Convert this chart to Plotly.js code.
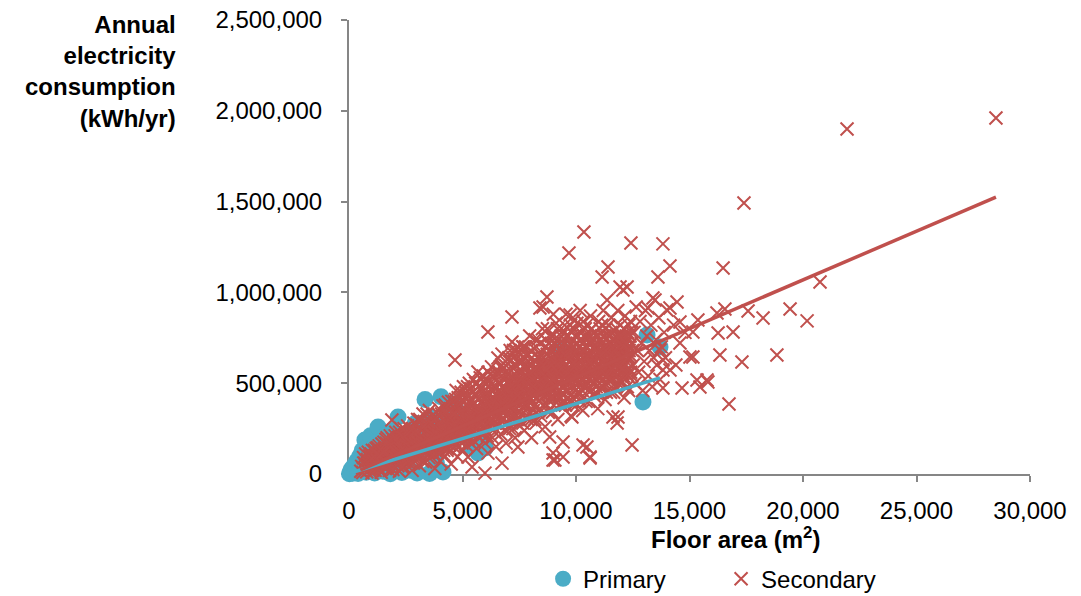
<!DOCTYPE html>
<html>
<head>
<meta charset="utf-8">
<script src="https://cdn.plot.ly/plotly-3.0.1.min.js"></script>
<style>
html,body{margin:0;padding:0;background:#fff;}
#chart{width:1081px;height:596px;}
</style>
</head>
<body>
<div id="chart"></div>
<script>
// Series names
const seriesNames = ["Primary", "Secondary"];

// Axis ticks
const xTickVals = [0, 5000, 10000, 15000, 20000, 25000, 30000];
const yTickVals = [0, 500000, 1000000, 1500000, 2000000, 2500000];

// Primary schools: [floor area m2, kWh/yr]
const primaryPoints = [
 [20,2000],[60,12000],[110,28000],[160,4000],[220,45000],[280,15000],[340,70000],[400,3000],
 [460,95000],[520,35000],[580,130000],[640,60000],[700,187000],[760,10000],[820,150000],[880,85000],
 [950,210000],[1000,40000],[1060,120000],[1130,5000],[1200,175000],[1280,259000],[1350,70000],
 [1420,140000],[1500,15000],[1580,210000],[1660,100000],[1740,180000],[1820,2000],[1900,240000],
 [1980,130000],[2060,60000],[2160,314000],[2250,200000],[2330,8000],[2420,150000],[2520,90000],
 [2620,230000],[2720,20000],[2820,170000],[2920,280000],[3000,5000],[3100,120000],[3200,260000],
 [3350,410000],[3450,190000],[3550,3000],[3650,310000],[3750,140000],[3850,60000],[3950,270000],
 [4050,425000],[4140,11000],[4250,230000],[4400,330000],[4580,385000],[4700,360000],[4800,250000],
 [5000,300000],[5200,200000],[5400,150000],[5680,116000],[5860,171000],[6000,143000],[9380,683000],
 [13130,765000],[13700,699000],[12950,396000]
];

// Secondary schools: [floor area m2, kWh/yr] - scattered points
const secondaryPoints = [
 [520,15000],[560,42000],[610,8000],[650,60000],[700,30000],[740,75000],[780,12000],[830,52000],
 [870,95000],[900,25000],[950,70000],[980,110000],[1010,5000],[1040,45000],[1080,88000],
 [1120,130000],[1150,20000],[1190,62000],[1230,100000],[1260,145000],[1300,35000],[1340,80000],
 [1380,120000],[1420,10000],[1450,165000],[1480,55000],[1520,95000],[1560,140000],[1600,30000],[1630,190000],
 [1660,75000],[1700,115000],[1740,160000],[1780,20000],[1820,210000],[1850,90000],[1890,297000],[1900,135000],
 [1940,50000],[1980,180000],[2020,105000],[2060,230000],[2100,65000],[2140,150000],[2180,200000],[2220,15000],
 [2260,120000],[2300,250000],
 [2340,85000],[2380,175000],[2420,40000],[2460,215000],[2500,140000],[2540,100000],[2580,265000],[2620,60000],
 [2660,190000],[2700,155000],[2740,230000],[2780,20000],[2820,120000],[2860,280000],[2900,175000],[2940,80000],[2980,210000],
 [3020,300000],[3060,140000],[3100,45000],[3140,250000],[3180,195000],[3220,105000],[3260,330000],[3300,160000],
 [3340,225000],[3380,65000],[3420,280000],[3460,130000],[3500,190000],[3540,350000],[3580,240000],[3620,95000],
 [3660,300000],[3700,165000],[3740,215000],[3780,30000],
 [3820,260000],[3860,190000],[3900,120000],[3940,330000],[3980,230000],[4020,70000],[4060,285000],[4100,160000],
 [4140,375000],[4180,210000],[4220,100000],[4260,310000],[4300,250000],[4340,140000],[4380,395000],[4420,190000],
 [4460,270000],[4500,55000],[4540,340000],[4580,225000],
 [4620,150000],[4670,628000],[4700,410000],[4740,300000],[4780,95000],[4820,250000],[4860,370000],[4900,180000],
 [4940,450000],[4980,320000],[5020,130000],[5060,280000],[5100,420000],[5140,210000],[5180,350000],[5220,480000],
 [5240,94000],[5280,260000],[5320,390000],[5360,170000],[5400,310000],[5420,39000],[5460,450000],
 [5500,230000],[5540,360000],[5580,500000],[5620,140000],[5660,290000],[5680,562000],[5720,410000],[5760,200000],
 [5800,330000],[5840,470000],[5880,250000],[5920,540000],[5960,380000],[5990,5000],[6000,170000],[6040,300000],
 [6080,430000],[6120,115000],[6120,782000],[6160,510000],[6200,260000],[6240,350000],[6280,590000],[6320,200000],
 [6360,460000],[6400,320000],[6440,400000],[6480,150000],
 [6520,540000],[6560,639000],[6560,280000],[6600,420000],[6640,360000],[6680,220000],[6720,600000],[6740,60000],
 [6760,480000],[6800,300000],[6840,390000],[6880,560000],[6920,170000],[6960,450000],[7000,330000],[7040,640000],
 [7080,250000],[7120,510000],[7180,865000],[7180,727000],[7160,400000],[7200,300000],[7240,580000],[7280,460000],
 [7320,200000],[7360,680000],[7400,360000],[7440,149000],[7440,520000],[7480,270000],
 [7520,620000],[7560,430000],[7600,330000],[7640,560000],[7680,700000],[7720,240000],[7760,480000],[7800,380000],
 [7840,650000],[7880,300000],[7920,530000],[7960,760000],[8000,420000],[8040,200000],[8080,600000],[8120,350000],
 [8160,690000],[8200,470000],[8240,280000],[8280,560000],[8320,740000],[8360,400000],[8400,640000],[8440,320000],
 [8480,510000],
 [8520,800000],[8560,450000],[8600,600000],[8640,260000],[8680,700000],[8720,975000],[8720,380000],[8760,540000],
 [8800,650000],[8840,204000],[8880,480000],[8920,760000],[8960,340000],[8990,77000],[8990,116000],[9000,580000],
 [9040,690000],[9080,420000],[9120,830000],[9160,520000],[9200,300000],[9240,620000],[9280,720000],[9320,460000],
 [9360,560000],[9400,380000],[9440,790000],[9480,650000],
 [9520,500000],[9560,880000],[9600,600000],[9640,420000],[9690,1217000],[9700,700000],[9740,540000],[9780,320000],
 [9820,314000],[9820,780000],[9860,640000],[9900,470000],[9940,850000],[9980,560000],[10020,380000],[10060,720000],
 [10100,610000],[10140,450000],[10180,900000],[10220,520000],[10260,680000],[10300,350000],[10350,1333000],
 [10340,760000],[10380,590000],[10420,480000],[10460,820000],[10480,149000],
 [10520,650000],[10560,400000],[10600,560000],[10620,88000],[10640,870000],[10680,720000],[10720,500000],
 [10760,620000],[10800,430000],[10840,780000],[10880,680000],[10920,540000],[10960,360000],[11000,840000],
 [11040,600000],[11080,740000],[11120,470000],[11150,1085000],[11160,660000],[11200,900000],[11240,560000],
 [11280,410000],[11320,800000],[11360,700000],[11410,1140000],[11400,520000],[11440,620000],[11480,760000],
 [11520,450000],[11560,860000],[11600,680000],[11630,314000],[11640,560000],[11680,790000],[11720,620000],
 [11760,480000],[11810,281000],[11800,720000],[11850,314000],[11840,900000],[11880,580000],[11920,660000],
 [11960,820000],[12000,500000],[12040,740000],[12070,1013000],[12080,600000],[12120,420000],[12160,870000],
 [12200,680000],[12240,550000],[12280,780000],[12320,460000],[12420,1272000],[12360,640000],[12400,840000],
 [12440,720000],[12470,160000],
 [12520,600000],[12560,780000],[12600,500000],[12650,920000],[12700,680000],[12760,560000],[12820,840000],
 [12880,720000],[12940,460000],[13000,620000],[13060,900000],[13120,760000],[13180,540000],[13240,680000],
 [13300,820000],[13360,480000],[13420,640000],[13480,958000],[13520,740000],[13560,600000],[13610,1085000],
 [13650,860000],[13700,520000],[13760,700000],[13830,1267000],[13830,474000],[13830,573000],[13880,780000],
 [13940,640000],
 [14140,1145000],[14140,914000],[14450,947000],[14580,721000],[14670,474000],[14300,820000],[14400,600000],
 [14800,780000],[15150,644000],[15370,848000],[15460,479000],[15810,507000],[16210,887000],[16260,776000],
 [16340,655000],[16480,1134000],[16560,909000],[16740,385000],[16920,782000],[17310,617000],[17400,1492000],
 [17580,898000],[18240,859000],[18850,655000],[19430,909000],[20180,843000],[20750,1057000],[21940,1900000],
 [28500,1960000],
 [12250,1030000],[11940,1030000],[13170,914000],[14000,903000],[13390,969000],[14580,837000],[15150,782000],
 [15020,644000],[15330,518000],[15770,518000],[9430,176000],[10310,160000],[10620,94000],[9070,77000],
 [9430,94000],[14140,573000],[13830,628000],[13700,683000],[8410,914000],[9740,876000],[11370,958000],
 [8550,920000],[9000,880000]
];

// Secondary schools: [floor area m2, kWh/yr] - the dense core of the cloud
const secondaryCorePoints = [
 [610,35000],[640,90000],[690,60000],[730,110000],[760,40000],[810,80000],[850,120000],[890,55000],[920,100000],
 [960,30000],[1000,85000],[1030,130000],[1070,60000],[1110,100000],[1160,45000],[1200,140000],[1240,75000],
 [1290,115000],[1330,155000],[1370,55000],[1410,95000],[1460,130000],[1500,70000],[1540,175000],[1580,110000],
 [1620,60000],[1640,145000],[1680,200000],[1720,90000],[1760,130000],[1800,170000],[1840,55000],[1870,115000],
 [1910,195000],[1950,80000],[1990,150000],[2030,210000],[2070,100000],[2110,175000],[2150,45000],[2190,130000],
 [2230,230000],[2270,85000],[2310,160000],[2350,200000],[2390,110000],[2430,250000],[2470,70000],[2510,180000],
 [2550,130000],[2590,220000],[2630,95000],[2670,250000],[2710,180000],[2750,120000],[2790,210000],[2830,60000],
 [2870,160000],[2910,240000],[2950,130000],[2990,270000],
 [3040,90000],[3080,200000],[3120,300000],[3160,150000],[3200,240000],[3240,70000],[3280,190000],[3320,290000],
 [3360,120000],[3400,230000],[3440,330000],[3480,170000],[3520,90000],[3560,270000],[3600,200000],[3640,140000],
 [3680,320000],[3720,250000],[3760,110000],[3800,190000],[3840,300000],[3880,150000],[3920,230000],[3960,360000],
 [4000,190000],[4040,120000],[4080,330000],[4120,250000],[4160,170000],[4200,290000],[4240,380000],[4280,200000],
 [4320,130000],[4360,320000],[4400,240000],[4440,160000],[4480,360000],[4520,290000],[4560,190000],
 [4600,260000],[4640,400000],[4660,180000],[4700,330000],[4720,460000],[4760,230000],[4800,380000],[4840,150000],
 [4880,290000],[4920,420000],[4960,200000],[5000,350000],[5040,480000],[5080,240000],[5120,310000],[5160,160000],
 [5200,430000],[5240,370000],[5260,200000],[5300,500000],[5340,290000],[5380,410000],[5420,230000],[5440,350000],
 [5480,520000],[5520,180000],[5560,300000],[5600,430000],[5640,250000],[5680,370000],[5700,480000],[5740,330000],
 [5780,530000],[5820,220000],[5860,400000],[5900,300000],[5940,460000],[5980,250000],[6020,520000],[6060,360000],
 [6100,210000],[6140,450000],[6180,320000],[6220,550000],[6260,400000],[6300,270000],[6340,500000],[6380,360000],
 [6420,230000],[6460,470000],[6500,560000],[6500,330000],
 [6540,400000],[6580,500000],[6620,270000],[6660,590000],[6700,350000],[6700,450000],[6740,660000],[6780,310000],
 [6820,520000],[6860,420000],[6900,240000],[6900,620000],[6940,360000],[6980,500000],[7020,440000],[7060,300000],
 [7060,580000],[7100,680000],[7140,360000],[7140,460000],[7180,540000],[7220,250000],[7220,640000],[7260,400000],
 [7300,520000],[7340,330000],[7340,600000],[7380,460000],[7420,700000],[7460,400000],[7500,560000],[7500,300000],
 [7540,500000],[7580,660000],[7620,420000],[7660,280000],[7660,620000],[7700,500000],[7740,380000],[7780,580000],
 [7780,700000],[7820,460000],[7860,320000],[7900,620000],[7940,420000],[7980,540000],[8020,300000],[8020,680000],
 [8060,480000],[8100,400000],[8140,580000],[8180,300000],[8200,740000],[8220,520000],[8260,420000],[8300,640000],
 [8340,350000],[8380,540000],[8420,720000],[8460,440000],[8500,600000],
 [8540,520000],[8580,380000],[8620,700000],[8660,460000],[8700,600000],[8740,800000],[8780,340000],[8780,500000],
 [8820,720000],[8860,420000],[8860,580000],[8900,640000],[8940,520000],[8980,760000],[9020,380000],[9020,470000],
 [9060,620000],[9100,560000],[9100,720000],[9140,440000],[9180,800000],[9180,650000],[9220,500000],[9260,380000],
 [9260,580000],[9300,680000],[9340,760000],[9340,420000],[9380,520000],[9420,620000],[9460,480000],[9460,720000],
 [9500,560000],[9500,820000],[9540,380000],[9580,680000],[9620,520000],[9660,760000],[9660,460000],[9720,620000],
 [9760,430000],[9760,820000],[9800,560000],[9840,700000],[9880,380000],[9880,600000],[9920,500000],[9960,760000],
 [9960,660000],[10000,440000],[10040,560000],[10040,830000],[10080,500000],[10120,700000],[10160,620000],
 [10200,400000],[10200,780000],[10240,560000],[10280,460000],[10320,640000],[10320,840000],[10360,520000],
 [10400,700000],[10440,400000],[10440,620000],[10480,760000],
 [10540,520000],[10580,720000],[10620,620000],[10660,460000],[10700,800000],[10740,560000],[10780,700000],
 [10820,500000],[10860,620000],[10900,760000],[10940,440000],[10980,660000],[11020,540000],[11060,800000],
 [11100,620000],[11140,720000],[11180,480000],[11220,640000],[11260,760000],[11300,560000],[11340,450000],
 [11380,680000],[11420,820000],[11460,560000],[11500,680000],[11540,520000],[11580,740000],[11620,620000],
 [11660,450000],[11700,700000],[11740,560000],[11780,800000],[11820,640000],[11860,500000],[11900,740000],
 [11940,600000],[11980,700000],[12020,560000],[12060,650000],[12100,800000],[12140,520000],[12180,720000],
 [12220,620000],[12260,480000],[12300,700000],[12340,580000],[12380,760000],[12420,650000],[12460,540000]
];

// Secondary schools: [floor area m2, kWh/yr] - further points inside the dense core
const secondaryInnerPoints = [
 [1050,20000],[1130,70000],[1210,110000],[1270,30000],[1350,100000],[1430,60000],[1510,120000],[1570,35000],
 [1650,170000],[1710,40000],[1790,95000],[1870,160000],[1930,25000],[2010,130000],[2090,190000],[2170,90000],
 [2250,160000],[2330,40000],[2410,200000],[2490,110000],[2570,170000],[2650,130000],[2730,60000],[2810,250000],
 [2890,100000],[2970,160000],[3050,230000],[3130,110000],[3210,180000],[3290,260000],[3370,150000],[3450,210000],
 [3530,120000],[3610,280000],[3690,210000],[3770,160000],[3850,240000],[3930,170000],[4010,270000],[4090,210000],
 [4130,300000],[4170,130000],[4210,230000],[4250,160000],[4290,340000],[4330,270000],[4370,190000],[4410,300000],
 [4450,220000],[4490,130000],[4530,400000],[4570,260000],[4610,330000],[4650,220000],[4690,160000],[4730,380000],
 [4770,270000],[4810,420000],[4850,210000],[4890,340000],[4930,260000],[4970,170000],[5010,400000],[5050,330000],
 [5090,190000],[5130,450000],[5170,270000],[5210,320000],[5250,430000],[5290,230000],[5330,340000],[5370,470000],
 [5410,270000],[5450,380000],[5490,300000],[5530,440000],[5570,220000],[5610,360000],[5650,500000],[5690,280000],
 [5730,420000],[5770,350000],[5810,470000],[5850,300000],[5890,380000],[5930,220000],[5970,500000],[6010,420000],
 [6050,270000],[6090,350000],[6130,560000],[6170,390000],[6210,290000],[6250,470000],[6290,330000],[6330,420000],
 [6370,540000],[6410,280000],[6450,360000],[6490,440000],
 [6530,330000],[6570,450000],[6610,560000],[6650,400000],[6690,500000],[6730,290000],[6770,420000],[6810,580000],
 [6850,340000],[6890,470000],[6930,540000],[6970,280000],[7010,380000],[7050,500000],[7090,620000],[7130,420000],
 [7170,320000],[7210,480000],[7250,680000],[7290,360000],[7330,440000],[7370,540000],[7410,300000],[7450,620000],
 [7490,470000],[7530,380000],[7570,570000],[7610,480000],[7650,700000],[7690,360000],[7730,600000],[7770,440000],
 [7810,530000],[7850,660000],[7890,400000],[7930,600000],[7970,340000],[8010,560000],[8050,640000],[8090,450000],
 [8130,520000],[8170,380000],[8210,620000],[8250,700000],[8290,480000],[8330,580000],[8370,460000],[8410,360000],
 [8450,660000],[8490,420000],[8530,640000],[8570,560000],[8610,430000],[8650,740000],[8690,520000],[8730,660000],
 [8770,580000],[8810,440000],[8850,680000],[8890,560000],[8930,420000],[8970,620000],
 [9010,720000],[9050,520000],[9090,480000],[9130,660000],[9170,580000],[9210,420000],[9250,740000],[9290,540000],
 [9330,620000],[9370,440000],[9410,700000],[9450,560000],[9490,400000],[9530,660000],[9570,760000],[9610,460000],
 [9650,580000],[9690,660000],[9730,500000],[9770,720000],[9810,400000],[9850,540000],[9890,800000],[9930,620000],
 [9970,460000],[10010,680000],[10050,600000],[10090,760000],[10130,540000],[10170,440000],[10210,660000],[10250,740000],
 [10290,580000],[10330,480000],[10370,680000],[10410,800000],[10450,540000],[10490,640000],[10530,460000],[10570,600000],
 [10610,760000],[10650,680000],[10690,540000],[10730,640000],[10770,440000],[10810,740000],[10850,560000],[10890,480000],
 [10930,700000],[10970,600000],[11010,680000],[11050,500000],[11090,580000],[11130,820000],[11170,580000],[11210,700000],
 [11250,500000],[11290,660000],[11330,740000],[11370,600000],[11410,500000],[11450,700000],[11490,600000],[11530,780000],
 [11570,580000],[11610,520000],[11650,660000],[11690,600000],[11730,740000],[11770,540000],[11810,660000],[11850,760000],
 [11890,640000],[11930,520000],[11970,600000],[12010,760000],[12050,680000],[12090,540000],[12130,700000],[12170,600000],
 [12210,760000],[12250,680000],[12290,580000],[12330,820000],[12370,700000],[12410,560000],[12450,780000],[12490,680000]
];

// Secondary schools: [floor area m2, kWh/yr] - points along the middle of the cloud
const secondaryMiddlePoints = [
 [2020,95000],[2080,120000],[2140,100000],[2200,125000],[2260,140000],[2320,110000],[2380,140000],[2440,120000],
 [2500,160000],[2560,115000],[2620,150000],[2680,130000],[2740,170000],[2800,135000],[2860,125000],[2920,165000],
 [2980,145000],[3040,175000],[3100,150000],[3160,190000],[3220,165000],[3280,145000],[3340,185000],[3400,170000],
 [3460,205000],[3520,180000],[3580,160000],[3640,215000],[3700,190000],[3760,230000],[3820,200000],[3880,180000],
 [3940,215000],[4000,240000],[4060,205000],[4120,225000],[4180,250000],[4240,215000],[4300,195000],[4360,235000],
 [4420,260000],[4480,225000],[4540,250000],[4600,215000],[4660,280000],[4720,245000],[4780,265000],[4840,230000],
 [4900,300000],[4960,255000],[5020,280000],[5080,310000],[5140,250000],[5200,290000],[5260,320000],[5320,265000],
 [5380,300000],[5440,330000],[5500,280000],[5560,310000],[5620,340000],[5680,295000],[5740,360000],[5800,320000],
 [5860,280000],[5920,345000],[5980,370000],[6040,320000],[6100,390000],[6160,340000],[6220,300000],[6280,370000],
 [6340,400000],[6400,350000],[6460,310000],[6520,380000],[6580,420000],[6640,460000],[6700,390000],[6760,360000],
 [6820,440000],[6880,400000],[6940,470000],[7000,420000],[7060,380000],[7120,450000],[7180,490000],[7240,420000],
 [7300,460000],[7360,400000],[7420,500000],[7480,440000],[7540,420000],[7600,520000],[7660,460000],[7720,540000],
 [7780,420000],[7840,500000],[7900,470000],[7960,560000],[8020,440000],[8080,520000],[8140,480000],[8200,580000],
 [8260,500000],[8320,460000],[8380,600000],[8440,520000],[8500,480000],[8560,600000],[8620,540000],[8680,470000],
 [8740,620000],[8800,560000],[8860,500000],[8920,600000],[8980,520000],[9040,640000],[9100,480000],[9160,600000],
 [9220,560000],[9280,640000],[9340,520000],[9400,580000],[9460,660000],[9520,600000],[9580,520000],[9640,640000],
 [9700,560000],[9760,680000],[9820,600000],[9880,540000],[9940,660000],[10000,600000],[10060,520000],[10120,640000],
 [10180,700000],[10240,620000],[10300,560000],[10360,680000],[10420,600000],[10480,700000],[10540,580000],[10600,660000],
 [10660,740000],[10720,600000],[10780,540000],[10840,680000],[10900,620000],[10960,720000],[11020,600000],[11080,660000],
 [11140,560000],[11200,760000],[11260,620000],[11320,680000],[11380,540000],[11440,720000],[11500,640000],[11560,580000],
 [11620,700000],[11680,640000],[11740,680000],[11800,600000],[11860,700000],[11920,760000],[11980,640000],[12040,580000],
 [12100,700000],[12160,660000],[12220,720000],[12280,640000],[12340,680000]
];

// Linear trend lines (end points)
const primaryTrendX = [20, 13700];
const primaryTrendY = [3800, 529000];
const secondaryTrendX = [500, 28500];
const secondaryTrendY = [22000, 1525000];

const BLUE = "#4BACC6";
const RED = "#C0504D";
const AXIS = "#868686";
const FONT = "Liberation Sans, Arial, sans-serif";

const allSecondary = secondaryPoints.concat(secondaryCorePoints, secondaryInnerPoints, secondaryMiddlePoints);

const traces = [
  {
    x: primaryPoints.map(p => p[0]), y: primaryPoints.map(p => p[1]),
    type: "scatter", mode: "markers", name: seriesNames[0], cliponaxis: false,
    marker: { symbol: "circle", size: 17, color: BLUE, line: { width: 0 } }
  },
  {
    x: allSecondary.map(p => p[0]), y: allSecondary.map(p => p[1]),
    type: "scatter", mode: "markers", name: seriesNames[1], cliponaxis: false,
    marker: { symbol: "x-thin", size: 13, color: RED, line: { width: 2, color: RED } }
  },
  {
    x: primaryTrendX, y: primaryTrendY, type: "scatter", mode: "lines",
    showlegend: false, hoverinfo: "skip", line: { color: BLUE, width: 3.5 }
  },
  {
    x: secondaryTrendX, y: secondaryTrendY, type: "scatter", mode: "lines",
    showlegend: false, hoverinfo: "skip", line: { color: RED, width: 3.5 }
  }
];

const layout = {
  width: 1081, height: 596,
  margin: { l: 349, r: 51, t: 20, b: 122, pad: 0, autoexpand: false },
  paper_bgcolor: "#ffffff", plot_bgcolor: "#ffffff",
  font: { family: FONT, size: 24, color: "#000000" },
  showlegend: true,
  legend: {
    orientation: "h", x: 0.285, xanchor: "left", y: -0.182, yanchor: "top",
    font: { family: FONT, size: 24, color: "#000000" }, itemwidth: 30,
    entrywidth: 133, entrywidthmode: "pixels",
    tracegroupgap: 0, bgcolor: "rgba(0,0,0,0)"
  },
  xaxis: {
    range: [0, 30000], tickvals: xTickVals, tickformat: ",d",
    showline: true, linecolor: AXIS, linewidth: 2, mirror: false,
    ticks: "outside", ticklen: 6, tickwidth: 2, tickcolor: AXIS,
    showgrid: false, zeroline: false, layer: "below traces",
    ticklabelstandoff: 8,
    tickfont: { family: FONT, size: 24, color: "#000000" }
  },
  yaxis: {
    range: [0, 2500000], tickvals: yTickVals, tickformat: ",d",
    showline: true, linecolor: AXIS, linewidth: 2, mirror: false,
    ticks: "outside", ticklen: 6, tickwidth: 2, tickcolor: AXIS,
    showgrid: false, zeroline: false, layer: "below traces",
    ticklabelstandoff: 14,
    tickfont: { family: FONT, size: 24, color: "#000000" }
  },
  annotations: [
    {
      text: "<b>Annual<br>electricity<br>consumption<br>(kWh/yr)</b>",
      xref: "paper", yref: "paper", x: -0.251, y: 1.025, xanchor: "right", yanchor: "top",
      align: "right", showarrow: false, font: { family: FONT, size: 24, color: "#000000" }
    },
    {
      text: "<b>Floor area (m<sup>2</sup>)</b>",
      xref: "paper", yref: "paper", x: 0.567, y: -0.141, xanchor: "center", yanchor: "middle",
      showarrow: false, font: { family: FONT, size: 24, color: "#000000" }
    }
  ]
};

Plotly.newPlot("chart", traces, layout, { displayModeBar: false, staticPlot: true });
</script>
</body>
</html>
